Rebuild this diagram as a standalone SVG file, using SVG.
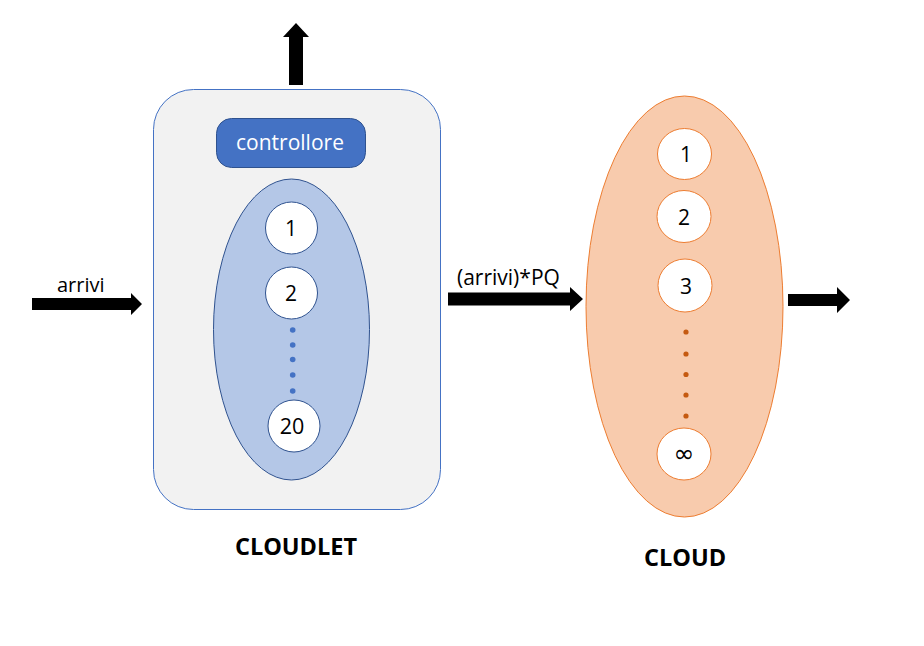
<svg xmlns="http://www.w3.org/2000/svg" width="924" height="646" viewBox="0 0 924 646">
<style>
text{font-family:"Open Sans","Liberation Sans",sans-serif;fill:#000}
.lbl{font-size:20px}
.num{font-size:21px;text-anchor:middle}
.title{font-size:23.5px;font-weight:bold;text-anchor:middle}
.arrow{fill:#000}
.bc{fill:#fff;stroke:#2F528F;stroke-width:1}
.oc{fill:#fff;stroke:#ED7D31;stroke-width:1}
.bd{fill:#4472C4}
.od{fill:#C55A11}
</style>
<rect width="924" height="646" fill="#fff"/>
<g id="cloudlet">
<rect x="153.5" y="89.5" width="287" height="420" rx="40" ry="40" fill="#F2F2F2" stroke="#4472C4" stroke-width="1"/>
<text class="title" x="296" y="555">CLOUDLET</text>
</g>
<g id="controllore">
<rect x="216.5" y="118.5" width="149" height="49" rx="15" ry="15" fill="#4472C4" stroke="#2F528F" stroke-width="1"/>
<text x="290" y="149.5" text-anchor="middle" style="font-size:21px;fill:#fff">controllore</text>
</g>
<g id="cloudlet-servers">
<ellipse cx="291.5" cy="329.5" rx="78" ry="150.5" fill="#B4C7E7" stroke="#2F528F" stroke-width="1"/>
<g id="cs1"><circle class="bc" cx="291.5" cy="228" r="26"/><text class="num" x="291" y="236">1</text></g>
<g id="cs2"><circle class="bc" cx="291.5" cy="293" r="26"/><text class="num" x="291" y="301">2</text></g>
<circle class="bd" cx="292.7" cy="330" r="2.8"/>
<circle class="bd" cx="292.7" cy="345" r="2.8"/>
<circle class="bd" cx="292.7" cy="359.5" r="2.8"/>
<circle class="bd" cx="292.7" cy="375" r="2.8"/>
<circle class="bd" cx="292.7" cy="391" r="2.8"/>
<g id="cs20"><circle class="bc" cx="294" cy="426" r="26"/><text class="num" x="292" y="433.5" style="font-size:21.5px">20</text></g>
</g>
<g id="cloud">
<ellipse cx="684.5" cy="306.5" rx="98.5" ry="210.5" fill="#F8CBAD" stroke="#ED7D31" stroke-width="1"/>
<g id="c1"><ellipse class="oc" cx="684.5" cy="154" rx="27" ry="25.5"/><text class="num" x="686" y="162">1</text></g>
<g id="c2"><ellipse class="oc" cx="684" cy="216.5" rx="27" ry="26"/><text class="num" x="684" y="224.5">2</text></g>
<g id="c3"><ellipse class="oc" cx="685" cy="285.5" rx="27" ry="26.5"/><text class="num" x="686" y="293.5">3</text></g>
<circle class="od" cx="686" cy="332" r="2.6"/>
<circle class="od" cx="686" cy="354" r="2.6"/>
<circle class="od" cx="686" cy="374.5" r="2.6"/>
<circle class="od" cx="686" cy="395" r="2.6"/>
<circle class="od" cx="686" cy="416" r="2.6"/>
<g id="cinf"><ellipse class="oc" cx="684" cy="454" rx="27" ry="26"/><text class="num" x="684" y="462" style="font-family:'DejaVu Sans',sans-serif;font-size:25px">∞</text></g>
<text class="title" x="685" y="566">CLOUD</text>
</g>
<g id="connectors">
<path class="arrow" d="M289,85 L289,37 L283,37 L296,23 L309,37 L303,37 L303,85 Z"/>
<path class="arrow" d="M32,298 L131,298 L131,293 L142,304 L131,315 L131,310 L32,310 Z"/>
<path class="arrow" d="M448,292.5 L570,292.5 L570,287 L583,299 L570,311 L570,305.5 L448,305.5 Z"/>
<path class="arrow" d="M788,294 L837,294 L837,287 L850,300 L837,313 L837,306 L788,306 Z"/>
<text class="lbl" x="57" y="292">arrivi</text>
<text class="lbl" x="457" y="285" style="font-size:21px">(arrivi)*PQ</text>
</g>
</svg>
